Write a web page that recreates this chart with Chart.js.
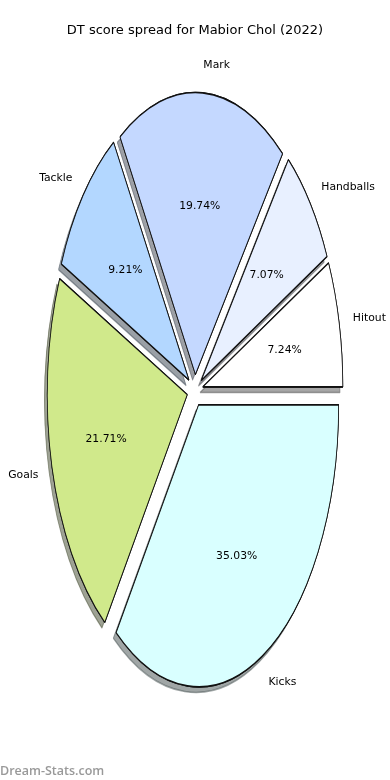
<!DOCTYPE html>
<html>
<head>
<meta charset="utf-8">
<script src="https://cdn.jsdelivr.net/npm/chart.js@4.4.0/dist/chart.umd.min.js"></script>
<style>
html, body { margin: 0; padding: 0; background: #fff; }
#wrap { position: relative; width: 390px; height: 780px; }
</style>
</head>
<body>
<div id="wrap"><canvas id="myChart" width="390" height="780"></canvas></div>
<script>
'use strict'
// data, listed clockwise starting at 3 o'clock
let chartTitle = 'DT score spread for Mabior Chol (2022)';
let sliceNames = ['Kicks', 'Goals', 'Tackle', 'Mark', 'Handballs', 'Hitout'];
let sliceValues = [35.03, 21.71, 9.21, 19.74, 7.07, 7.24];
let sliceColors = ['#d9ffff', '#d0e98b', '#b3d7ff', '#c4d8ff', '#e8f0ff', '#ffffff'];
let watermark = 'Dream-Stats.com';

let radius = 140;      // horizontal radius in px
let stretch = 2.014;   // vertical stretch of the pie
let explode = 8;       // px each slice moves out

function shadowOf(hex) {
    let r = parseInt(hex.slice(1, 3), 16) * 0.3;
    let g = parseInt(hex.slice(3, 5), 16) * 0.3;
    let b = parseInt(hex.slice(5, 7), 16) * 0.3;
    return `rgba(${r},${g},${b},0.5)`;
}

function drawArcs(ctx, arcs, withShadow) {
    arcs.forEach((arc, i) => {
        let mid = (arc.startAngle + arc.endAngle) / 2;
        ctx.save();
        ctx.translate(Math.cos(mid) * explode, Math.sin(mid) * explode);
        if (withShadow) {
            ctx.shadowColor = shadowOf(sliceColors[i]);
            ctx.shadowOffsetX = -2.8;
            ctx.shadowOffsetY = 5.6;
            ctx.shadowBlur = 0;
        }
        arc.draw(ctx);
        ctx.restore();
    });
}

// squash the round pie into an ellipse, add explode + shadow, then labels
const pieLook = {
    id: 'pieLook',
    beforeDatasetDraw(chart, args) {
        let ctx = chart.ctx;
        let arcs = args.meta.data;
        let cx = arcs[0].x, cy = arcs[0].y;
        ctx.save();
        ctx.translate(cx, cy);
        ctx.scale(1, stretch);
        ctx.translate(-cx, -cy);
        drawArcs(ctx, arcs, true);
        drawArcs(ctx, arcs, false);
        ctx.restore();
        return false;
    },
    afterDraw(chart) {
        let ctx = chart.ctx;
        let arcs = chart.getDatasetMeta(0).data;
        ctx.save();
        ctx.fillStyle = '#000';
        ctx.textBaseline = 'middle';
        arcs.forEach((arc, i) => {
            let mid = (arc.startAngle + arc.endAngle) / 2;
            let c = Math.cos(mid), s = Math.sin(mid);
            let r = arc.outerRadius;
            // category name at 1.1 r
            let lx = arc.x + c * (explode + 1.1 * r);
            let ly = arc.y + s * (explode + 1.1 * r) * stretch + 1;
            ctx.font = '10.8px "DejaVu Sans"';
            ctx.textAlign = c > 0 ? 'left' : 'right';
            ctx.fillText(sliceNames[i], lx, ly);
            // percent at 0.6 r
            let px = arc.x + c * (explode + 0.6 * r);
            let py = arc.y + s * (explode + 0.6 * r) * stretch + 1;
            ctx.textAlign = 'center';
            ctx.fillText(sliceValues[i].toFixed(2) + '%', px, py);
        });
        ctx.font = '13px "DejaVu Sans"';
        ctx.textAlign = 'center';
        ctx.fillText(chartTitle, 195, 31);
        ctx.font = '600 12.5px "Open Sans"';
        ctx.fillStyle = '#999';
        ctx.textAlign = 'left';
        ctx.textBaseline = 'alphabetic';
        ctx.fillText(watermark, 0, 775);
        ctx.restore();
    }
};

let ctx = document.getElementById('myChart').getContext('2d');
let myChart = new Chart(ctx, {
    type: 'pie',
    data: {
        labels: sliceNames,
        datasets: [{
            data: sliceValues,
            backgroundColor: sliceColors,
            borderColor: '#111',
            borderWidth: 0.8,
            offset: 0,
            hoverOffset: 0
        }]
    },
    options: {
        responsive: false,
        animation: false,
        events: [],
        rotation: 90,
        radius: radius,
        layout: { padding: { top: 1 } },
        plugins: {
            legend: { display: false },
            tooltip: { enabled: false },
            title: { display: false }
        }
    },
    plugins: [pieLook]
});
</script>
</body>
</html>
